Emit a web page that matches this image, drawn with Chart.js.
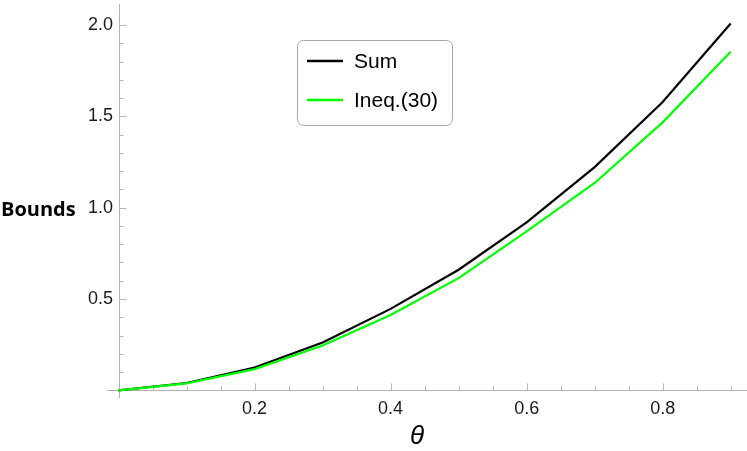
<!DOCTYPE html>
<html>
<head>
<meta charset="utf-8">
<title>Bounds vs theta</title>
<script src="https://cdn.jsdelivr.net/npm/chart.js@4.4.1/dist/chart.umd.min.js"></script>
<style>
  html, body { margin: 0; padding: 0; background: #fff; }
  #wrap { width: 747px; height: 451px; }
</style>
</head>
<body>
<div id="wrap"><canvas id="chart" width="747" height="451"></canvas></div>
<script>
// values
const theta = [0, 0.1, 0.2, 0.3, 0.4, 0.5, 0.6, 0.7, 0.8, 0.9];
const sumBound = [0, 0.040, 0.125, 0.262, 0.446, 0.660, 0.919, 1.222, 1.578, 2.008];
const ineqBound = [0, 0.038, 0.116, 0.245, 0.413, 0.614, 0.870, 1.135, 1.467, 1.853];
const seriesLabels = ['Sum', 'Ineq.(30)'];

// axis ticks (major ones get labels)
const xTicks = [0.2, 0.4, 0.6, 0.8];
const xMinorTicks = [0.05, 0.1, 0.15, 0.25, 0.3, 0.35, 0.45, 0.5, 0.55, 0.65, 0.7, 0.75, 0.85, 0.9];
const yTicks = [0.5, 1.0, 1.5, 2.0];
const yMinorTicks = [0.1, 0.2, 0.3, 0.4, 0.6, 0.7, 0.8, 0.9, 1.1, 1.2, 1.3, 1.4, 1.6, 1.7, 1.8, 1.9];

const axisColor = '#b3b3b3';
const labelFont = "'Liberation Sans', Arial, sans-serif";

// Mathematica-style axes: lines crossing at the origin, ticks pointing inward
const axesPlugin = {
    id: 'mmaAxes',
    beforeDatasetsDraw(chart) {
        const ctx = chart.ctx;
        const area = chart.chartArea;
        const xs = chart.scales.x;
        const ys = chart.scales.y;
        const x0 = Math.round(xs.getPixelForValue(0)) + 0.5;
        const y0 = Math.round(ys.getPixelForValue(0)) + 0.5;

        ctx.save();
        ctx.strokeStyle = axisColor;
        ctx.lineWidth = 1;
        ctx.beginPath();
        ctx.moveTo(area.left, y0);
        ctx.lineTo(area.right, y0);
        ctx.moveTo(x0, area.top);
        ctx.lineTo(x0, area.bottom);

        xTicks.forEach(v => {
            const px = Math.round(xs.getPixelForValue(v)) + 0.5;
            ctx.moveTo(px, y0); ctx.lineTo(px, y0 - 7);
        });
        xMinorTicks.forEach(v => {
            const px = Math.round(xs.getPixelForValue(v)) + 0.5;
            ctx.moveTo(px, y0); ctx.lineTo(px, y0 - 4);
        });
        yTicks.forEach(v => {
            const py = Math.round(ys.getPixelForValue(v)) + 0.5;
            ctx.moveTo(x0, py); ctx.lineTo(x0 + 7, py);
        });
        yMinorTicks.forEach(v => {
            const py = Math.round(ys.getPixelForValue(v)) + 0.5;
            ctx.moveTo(x0, py); ctx.lineTo(x0 + 4, py);
        });
        ctx.stroke();
        ctx.restore();
    },
    afterDraw(chart) {
        const ctx = chart.ctx;
        ctx.save();
        ctx.fillStyle = '#000';

        // y axis label, horizontal like the original
        ctx.font = "bold 20px 'Open Sans', 'Noto Sans', sans-serif";
        ctx.textAlign = 'left';
        ctx.textBaseline = 'middle';
        ctx.fillText('Bounds', 1, 210);

        // x axis label
        ctx.font = "italic 26px " + labelFont;
        ctx.textAlign = 'center';
        ctx.fillText('\u03b8', 417, 437);

        // legend box
        const bx = 297.5, by = 40.5, bw = 155, bh = 85, r = 6;
        ctx.strokeStyle = '#a8a8a8';
        ctx.lineWidth = 1;
        ctx.beginPath();
        ctx.moveTo(bx + r, by);
        ctx.arcTo(bx + bw, by, bx + bw, by + bh, r);
        ctx.arcTo(bx + bw, by + bh, bx, by + bh, r);
        ctx.arcTo(bx, by + bh, bx, by, r);
        ctx.arcTo(bx, by, bx + bw, by, r);
        ctx.closePath();
        ctx.fillStyle = '#fff';
        ctx.fill();
        ctx.stroke();

        const rows = [61, 100];
        ctx.font = "21px " + labelFont;
        ctx.textAlign = 'left';
        ctx.textBaseline = 'middle';
        chart.data.datasets.forEach((ds, i) => {
            const ry = rows[i];
            ctx.strokeStyle = ds.borderColor;
            ctx.lineWidth = 2.5;
            ctx.beginPath();
            ctx.moveTo(307, ry);
            ctx.lineTo(343, ry);
            ctx.stroke();
            ctx.fillStyle = '#000';
            ctx.fillText(ds.label, 354, ry + 1);
        });
        ctx.restore();
    }
};

new Chart(document.getElementById('chart'), {
    type: 'line',
    data: {
        labels: theta,
        datasets: [
            {
                label: seriesLabels[0],
                data: theta.map((t, i) => ({ x: t, y: sumBound[i] })),
                borderColor: '#000000',
                borderWidth: 2.2,
                pointRadius: 0,
                tension: 0,
                order: 2
            },
            {
                label: seriesLabels[1],
                data: theta.map((t, i) => ({ x: t, y: ineqBound[i] })),
                borderColor: '#00ff00',
                borderWidth: 2.2,
                pointRadius: 0,
                tension: 0,
                order: 1
            }
        ]
    },
    options: {
        responsive: false,
        animation: false,
        layout: { padding: { top: 4, left: 0, right: 0, bottom: 0 } },
        plugins: {
            legend: { display: false },
            tooltip: { enabled: false }
        },
        scales: {
            x: {
                type: 'linear',
                min: -0.017,
                max: 0.924,
                grid: { display: false, drawTicks: false },
                border: { display: false },
                afterBuildTicks: s => { s.ticks = xTicks.map(v => ({ value: v })); },
                afterFit: s => { s.height = 53; },
                ticks: {
                    padding: 0,
                    color: '#1a1a1a',
                    font: { family: labelFont, size: 18 },
                    maxRotation: 0,
                    callback: v => v.toFixed(1)
                }
            },
            y: {
                type: 'linear',
                min: -0.042,
                max: 2.115,
                grid: { display: false, drawTicks: false },
                border: { display: false },
                afterBuildTicks: s => { s.ticks = yTicks.map(v => ({ value: v })); },
                afterFit: s => { s.width = 107; },
                ticks: {
                    // mirrored so the labels are not clipped to the scale box
                    mirror: true,
                    padding: -19,
                    color: '#1a1a1a',
                    font: { family: labelFont, size: 18 },
                    callback: v => v.toFixed(1)
                }
            }
        }
    },
    plugins: [axesPlugin]
});
</script>
</body>
</html>
